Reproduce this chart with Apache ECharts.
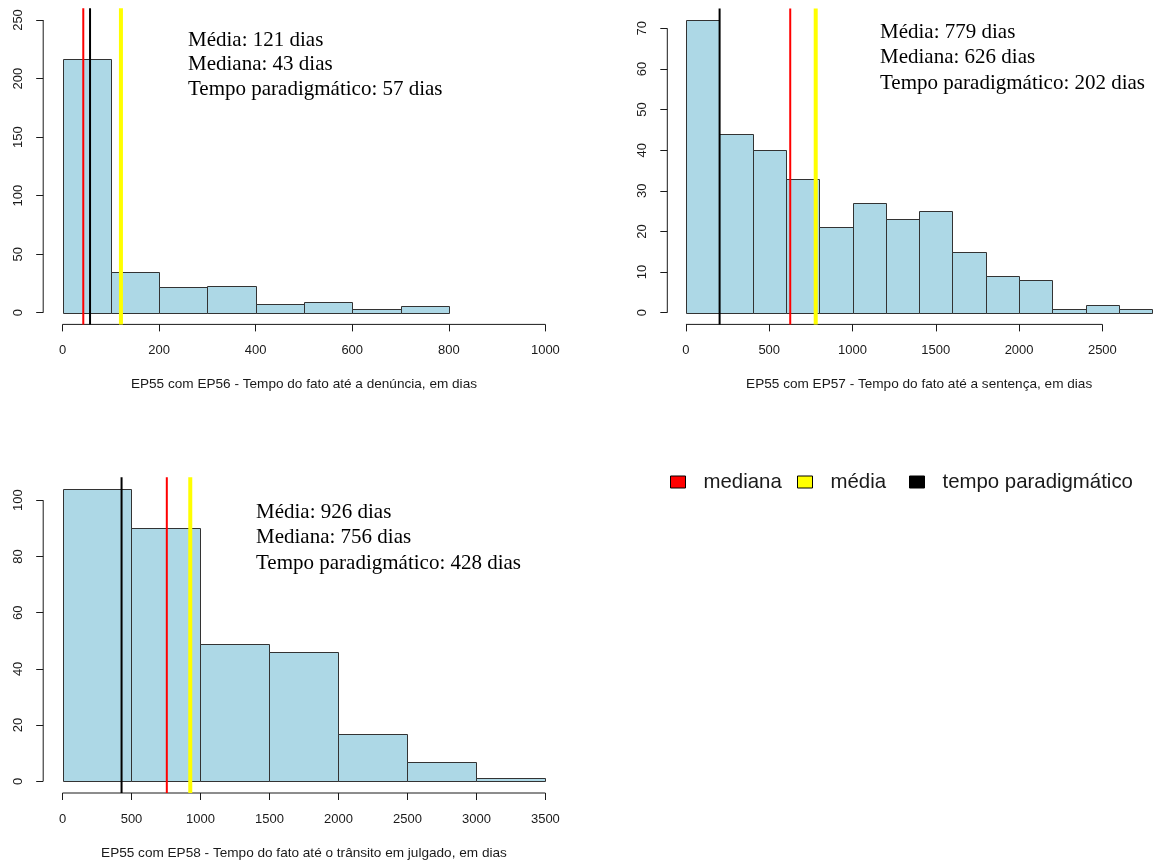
<!DOCTYPE html>
<html><head><meta charset="utf-8">
<script src="https://cdn.jsdelivr.net/npm/echarts@6/dist/echarts.min.js"></script>
<style>html,body{margin:0;padding:0;background:#fff}#c{width:1171px;height:861px}</style>
</head><body><div id="c"></div>
<script>
// ---- data ----
const breaks1 = [0,100,200,300,400,500,600,700,800];
const counts1 = [217,35,22,23,7,9,3,6];
const breaks2 = [0,200,400,600,800,1000,1200,1400,1600,1800,2000,2200,2400,2600,2800];
const counts2 = [72,44,40,33,21,27,23,25,15,9,8,1,2,1];
const breaks3 = [0,500,1000,1500,2000,2500,3000,3500];
const counts3 = [104,90,49,46,17,7,1];
const xTicks1 = [0,200,400,600,800,1000];
const yTicks1 = [0,50,100,150,200,250];
const xTicks2 = [0,500,1000,1500,2000,2500];
const yTicks2 = [0,10,20,30,40,50,60,70];
const xTicks3 = [0,500,1000,1500,2000,2500,3000,3500];
const yTicks3 = [0,20,40,60,80,100];
const medians = [43,626,756];
const means = [121,779,926];
const paradigms = [57,202,428];
const axisTitles = [
  'EP55 com EP56 - Tempo do fato até a denúncia, em dias',
  'EP55 com EP57 - Tempo do fato até a sentença, em dias',
  'EP55 com EP58 - Tempo do fato até o trânsito em julgado, em dias'
];
const legendNames = ['mediana','média','tempo paradigmático'];

// ---- layout ----
const panels = [
  {breaks:breaks1, counts:counts1, xt:xTicks1, yt:yTicks1, xr:[-40,1040], yr:[-10,260],
   grid:{left:43.2, top:8.3, width:521.5, height:316.1}, text:{x:188, y:[40,64.5,89]}},
  {breaks:breaks2, counts:counts2, xt:xTicks2, yt:yTicks2, xr:[-112,2912], yr:[-2.88,74.88],
   grid:{left:667.3, top:8.5, width:522.5, height:315.9}, text:{x:880, y:[32.5,57.5,83]}},
  {breaks:breaks3, counts:counts3, xt:xTicks3, yt:yTicks3, xr:[-140,3640], yr:[-4.16,108.16],
   grid:{left:43.2, top:477.3, width:521.5, height:316.4}, text:{x:256, y:[512.5,537.5,563]}}
];

const SANS = '"Liberation Sans", Arial, sans-serif';
const SERIF = '"Liberation Serif", "Times New Roman", serif';
const INK = '#1a1a1a';

function renderBars(params, api){
  const p0 = api.coord([api.value(0), 0]);
  const p1 = api.coord([api.value(1), api.value(2)]);
  const x0 = Math.round(p0[0]) + 0.5, x1 = Math.round(p1[0]) + 0.5;
  const yb = Math.round(p0[1]) + 0.5, yt = Math.round(p1[1]) + 0.5;
  return {type:'rect', shape:{x:x0, y:yt, width:x1-x0, height:yb-yt},
    style:{fill:'#ADD8E6', stroke:'#333', lineWidth:1}};
}
const plain = v => String(v);

const grids = [], xAxes = [], yAxes = [], series = [], graphics = [];
panels.forEach((p, i) => {
  grids.push(Object.assign({containLabel:false}, p.grid));
  xAxes.push({type:'value', gridIndex:i, min:p.xr[0], max:p.xr[1], position:'bottom',
    axisLine:{show:false, onZero:false}, splitLine:{show:false},
    axisTick:{show:true, inside:false, customValues:p.xt, length:7, lineStyle:{color:INK, width:1}},
    axisLabel:{show:true, customValues:p.xt, formatter:plain, fontSize:13, margin:20, color:INK, fontFamily:SANS},
    name:axisTitles[i], nameLocation:'middle', nameGap:53,
    nameTextStyle:{fontSize:13.6, color:INK, fontFamily:SANS}
  });
  yAxes.push({type:'value', gridIndex:i, min:p.yr[0], max:p.yr[1], position:'left',
    axisLine:{show:false, onZero:false}, splitLine:{show:false},
    axisTick:{show:true, inside:false, customValues:p.yt, length:7, lineStyle:{color:INK, width:1}},
    axisLabel:{show:true, customValues:p.yt, formatter:plain, fontSize:13, margin:18, rotate:90, color:INK, fontFamily:SANS}
  });
  const bars = p.counts.map((c, k) => [p.breaks[k], p.breaks[k+1], c]);
  series.push({type:'custom', xAxisIndex:i, yAxisIndex:i, renderItem:renderBars, data:bars, silent:true, z:2});
  // axis lines (R style, spanning first..last tick)
  const xt = p.xt, yt = p.yt;
  series.push({type:'line', xAxisIndex:i, yAxisIndex:i, data:[[xt[0], p.yr[0]],[xt[xt.length-1], p.yr[0]]],
    symbol:'none', clip:false, silent:true, lineStyle:{color:INK, width:1}, z:3});
  series.push({type:'line', xAxisIndex:i, yAxisIndex:i, data:[[p.xr[0], yt[0]],[p.xr[0], yt[yt.length-1]]],
    symbol:'none', clip:false, silent:true, lineStyle:{color:INK, width:1}, z:3});
  // reference lines
  const refs = [
    {name:legendNames[0], v:medians[i], color:'#FF0000', w:2},
    {name:legendNames[2], v:paradigms[i], color:'#000000', w:2},
    {name:legendNames[1], v:means[i], color:'#FFFF00', w:4}
  ];
  refs.forEach(r => {
    series.push({type:'line', name:r.name, xAxisIndex:i, yAxisIndex:i,
      data:[[r.v, p.yr[0]],[r.v, p.yr[1]]], symbol:'none', silent:true,
      itemStyle:{color:r.color}, lineStyle:{color:r.color, width:r.w}, z:4});
  });
  const lines = ['Média: ' + means[i] + ' dias', 'Mediana: ' + medians[i] + ' dias',
                 'Tempo paradigmático: ' + paradigms[i] + ' dias'];
  lines.forEach((t, k) => {
    graphics.push({type:'text', x:p.text.x, y:p.text.y[k], z:10,
      style:{text:t, font:'21px ' + SERIF, fill:'#000', verticalAlign:'middle', align:'left'}});
  });
});

const legendColors = ['#FF0000','#FFFF00','#000000'];
const legendLefts = [670, 797, 909];
const legends = legendNames.map((n, k) => ({
  data:[{name:n, icon:'rect', itemStyle:{color:legendColors[k], borderColor:'#000', borderWidth:1}}],
  left:legendLefts[k], top:472, padding:0, itemWidth:15, itemHeight:12, selectedMode:false,
  itemStyle:{borderColor:'#000', borderWidth:1},
  textStyle:{fontSize:20.4, fontFamily:SANS, color:INK, padding:[0,0,0,13]}
}));

const chart = echarts.init(document.getElementById('c'), null, {renderer:'canvas'});
chart.setOption({
  animation:false,
  backgroundColor:'#fff',
  grid:grids, xAxis:xAxes, yAxis:yAxes, series:series,
  legend:legends, graphic:graphics
});
</script></body></html>
